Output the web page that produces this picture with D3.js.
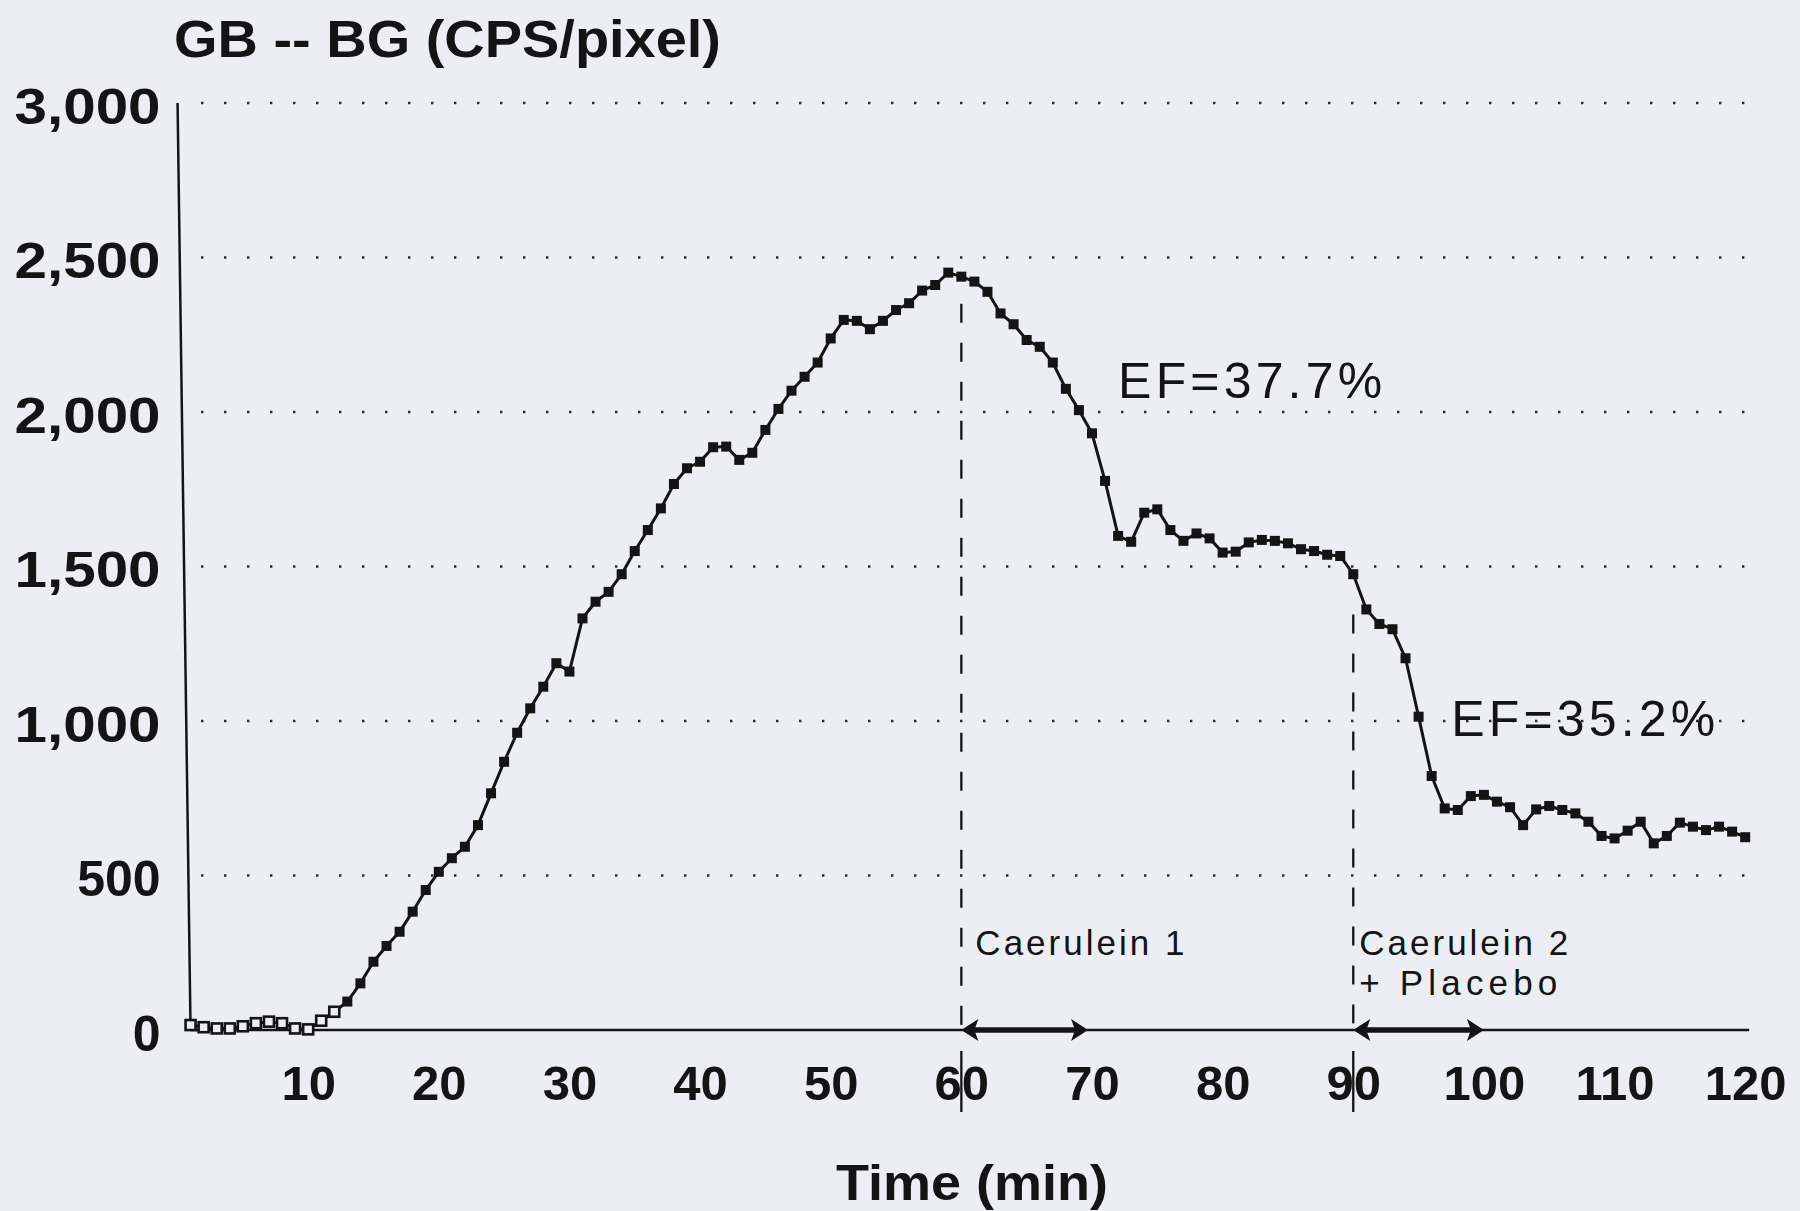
<!DOCTYPE html>
<html><head><meta charset="utf-8">
<script src="https://cdn.jsdelivr.net/npm/d3@7"></script>
<style>html,body{margin:0;padding:0;background:#eceef3;} svg{display:block;}</style>
</head><body><svg id="chart" width="1800" height="1211"></svg>
<script>
// ---- data ----
const minutes = [1,2,3,4,5,6,7,8,9,10,11,12,13,14,15,16,17,18,19,20,
  21,22,23,24,25,26,27,28,29,30,31,32,33,34,35,36,37,38,39,40,
  41,42,43,44,45,46,47,48,49,50,51,52,53,54,55,56,57,58,59,60,
  61,62,63,64,65,66,67,68,69,70,71,72,73,74,75,76,77,78,79,80,
  81,82,83,84,85,86,87,88,89,90,91,92,93,94,95,96,97,98,99,100,
  101,102,103,104,105,106,107,108,109,110,111,112,113,114,115,116,117,118,119,120];
const gbMinusBg = [16,9,5,5,12,22,27,22,5,2,
  30,59,92,151,221,272,318,383,453,512,
  556,593,663,766,868,962,1041,1111,1187,1160,
  1332,1386,1418,1475,1550,1618,1688,1767,1818,1839,
  1886,1888,1845,1868,1942,2010,2069,2114,2160,2238,
  2298,2295,2268,2295,2330,2352,2393,2411,2451,2438,
  2422,2389,2319,2284,2233,2211,2160,2075,2006,1931,
  1777,1599,1580,1674,1685,1618,1583,1607,1591,1545,
  1548,1578,1586,1583,1575,1556,1550,1538,1534,1475,
  1361,1314,1297,1203,1014,822,717,712,757,761,
  739,721,663,714,725,712,701,674,628,620,
  645,674,604,628,671,658,647,658,642,624];
const yTickValues = [0,500,1000,1500,2000,2500,3000];
const gridValues = [500,1000,1500,2000,2500,3000];
const xTickValues = [10,20,30,40,50,60,70,80,90,100,110,120];
const eventTimes = [60, 90];
const eventLineTops = [2350, 1345];
const infusionStarts = [60, 90];
const infusionEnds = [69.7, 100];
const efTexts = ["EF=37.7%", "EF=35.2%"];
const efTimes = [72, 97.5];
const efValues = [2045, 950];
const eventLabelLines = [["Caerulein 1"], ["Caerulein 2", "+ Placebo"]];
const yTitle = "GB -- BG (CPS/pixel)";
const xTitle = "Time (min)";

// ---- chart ----
const svg = d3.select("#chart");
const ink = "#141414";
const bg = "#eceef3";
const font = "'Liberation Sans', Arial, Helvetica, sans-serif";
svg.append("rect").attr("width",1800).attr("height",1211).attr("fill",bg);

const x = d3.scaleLinear().domain([0,120]).range([177.5,1745.2]);
const y = d3.scaleLinear().domain([0,3000]).range([1030,103]);

// grid
svg.append("g").selectAll("line").data(gridValues).join("line")
  .attr("x1", 201).attr("x2", 1746)
  .attr("y1", d=>y(d)).attr("y2", d=>y(d))
  .attr("stroke", "#2a2a2a").attr("stroke-width", 2.4)
  .attr("stroke-dasharray", "2.4,20.6");

// y axis (labels)
const yAxis = svg.append("g").attr("transform", `translate(${x(1)},0)`)
  .call(d3.axisLeft(y).tickValues(yTickValues).tickSize(0).tickPadding(30).tickFormat(d3.format(",")));
yAxis.select(".domain").remove();
yAxis.selectAll("text").attr("font-family", font).attr("font-weight","bold")
  .attr("font-size", 50).attr("fill", ink).attr("dy","0.4em")
  .each(function(d){
    const s = d3.format(",")(d);
    if (s.length > 3) d3.select(this).attr("textLength", 146).attr("lengthAdjust","spacingAndGlyphs");
  });
// y axis line (slightly slanted in the original print)
svg.append("line").attr("x1", x(1)).attr("x2", x(1)-13).attr("y1", y(0)).attr("y2", y(3000))
  .attr("stroke", ink).attr("stroke-width", 2.5);

// x axis
const xAxis = svg.append("g").attr("transform", `translate(0,${y(0)})`)
  .call(d3.axisBottom(x).tickValues(xTickValues).tickSize(0).tickPadding(35));
xAxis.select(".domain").remove();
xAxis.selectAll("text").attr("font-family", font).attr("font-weight","bold")
  .attr("font-size", 49).attr("fill", ink);
svg.append("line").attr("x1", x(1)).attr("x2", x(120)+4).attr("y1", y(0)).attr("y2", y(0))
  .attr("stroke", ink).attr("stroke-width", 2.3);

// event dashed lines
const ev = svg.append("g");
ev.selectAll("line.dash").data(eventTimes).join("line").attr("class","dash")
  .attr("x1", d=>x(d)).attr("x2", d=>x(d))
  .attr("y1", (d,i)=>y(eventLineTops[i])).attr("y2", y(0))
  .attr("stroke", ink).attr("stroke-width", 2.3).attr("stroke-dasharray","19,20");
ev.selectAll("line.tick").data(eventTimes).join("line").attr("class","tick")
  .attr("x1", d=>x(d)).attr("x2", d=>x(d))
  .attr("y1", y(0)+21).attr("y2", y(0)+82)
  .attr("stroke", ink).attr("stroke-width", 2.3);

// infusion arrows
const arr = svg.append("g");
infusionStarts.forEach((s,i)=>{
  const xs = x(s), xe = x(infusionEnds[i]), yy = y(0);
  arr.append("line").attr("x1", xs+10).attr("x2", xe-10).attr("y1", yy).attr("y2", yy)
    .attr("stroke", ink).attr("stroke-width", 5.5);
  arr.append("path").attr("d", `M${xs},${yy} L${xs+17},${yy-11} L${xs+13},${yy} L${xs+17},${yy+11} Z`).attr("fill", ink);
  arr.append("path").attr("d", `M${xe},${yy} L${xe-17},${yy-11} L${xe-13},${yy} L${xe-17},${yy+11} Z`).attr("fill", ink);
});

// data line + markers
const line = d3.line().x((d,i)=>x(minutes[i])).y(d=>y(d));
svg.append("path").datum(gbMinusBg).attr("d", line)
  .attr("fill","none").attr("stroke", ink).attr("stroke-width", 3).attr("stroke-linejoin","round");
svg.append("g").selectAll("rect").data(gbMinusBg).join("rect")
  .attr("x", (d,i)=>x(minutes[i])-5).attr("y", d=>y(d)-5)
  .attr("width", 10).attr("height", 10)
  .attr("fill", (d,i)=> i < 12 ? bg : ink)
  .attr("stroke", ink).attr("stroke-width", (d,i)=> i < 12 ? 2.6 : 0);

// EF annotations
svg.append("g").selectAll("text").data(efTexts).join("text")
  .attr("x", (d,i)=>x(efTimes[i])).attr("y", (d,i)=>y(efValues[i]))
  .attr("font-family", font).attr("font-size", 50).attr("fill", ink)
  .attr("textLength", 264).attr("lengthAdjust","spacing")
  .text(d=>d);

// event labels
eventLabelLines.forEach((lines,i)=>{
  lines.forEach((t,j)=>{
    svg.append("text")
      .attr("x", x(eventTimes[i]) + (i===0 ? 14 : 6))
      .attr("y", 955 + j*40)
      .attr("font-family", font).attr("font-size", 35).attr("fill", ink)
      .attr("textLength", j===0 ? 209 : 198).attr("lengthAdjust","spacing")
      .text(t);
  });
});

// titles
svg.append("text").attr("x", 174).attr("y", 57)
  .attr("font-family", font).attr("font-weight","bold").attr("font-size", 51).attr("fill", ink)
  .attr("textLength", 547).attr("lengthAdjust","spacingAndGlyphs").text(yTitle);
svg.append("text").attr("x", 836).attr("y", 1200)
  .attr("font-family", font).attr("font-weight","bold").attr("font-size", 50).attr("fill", ink)
  .attr("textLength", 272).attr("lengthAdjust","spacingAndGlyphs").text(xTitle);
</script>
</body></html>
